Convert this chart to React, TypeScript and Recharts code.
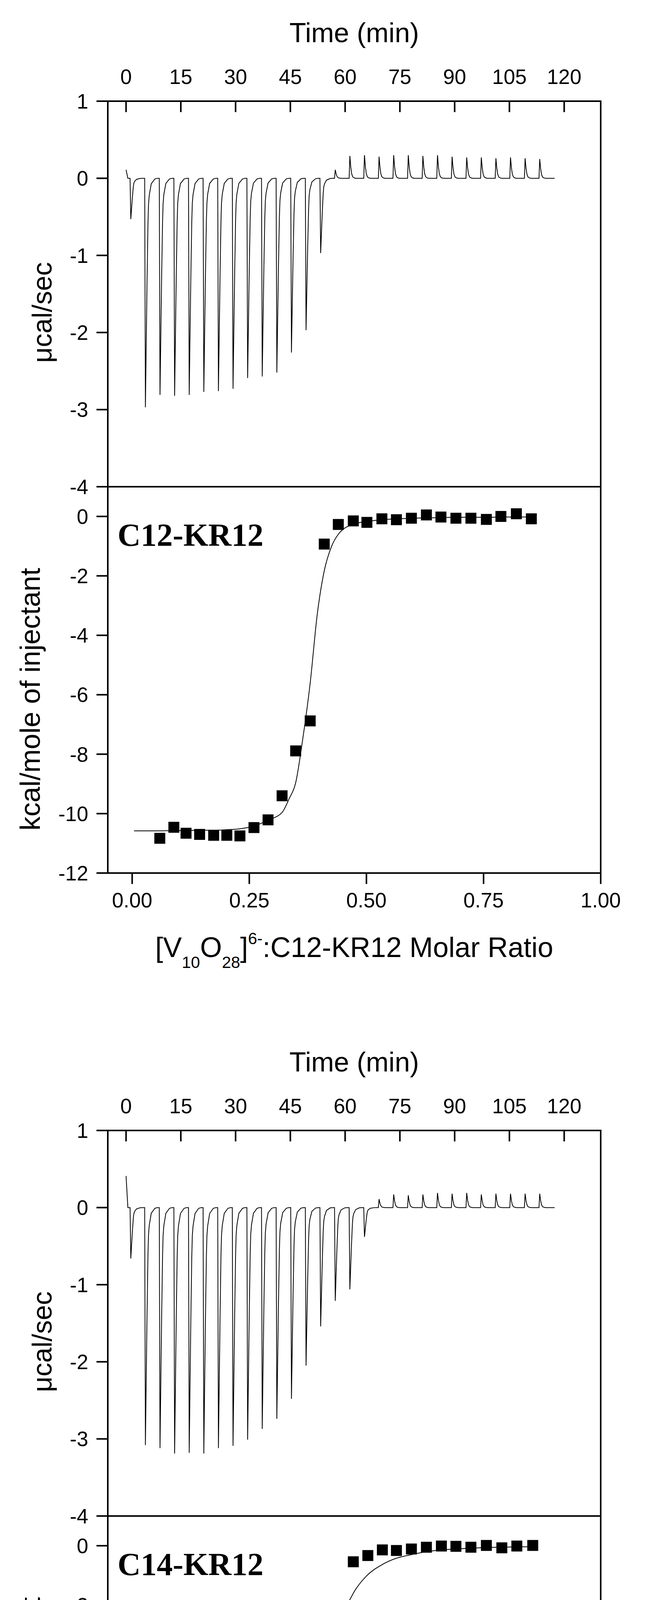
import React from 'react';
import { ComposedChart, Line, Scatter, XAxis, YAxis } from 'recharts';

const SANS = "'Liberation Sans', Arial, Helvetica, sans-serif";
const SERIF = "'Liberation Serif', 'Times New Roman', serif";

// injection start times (min), same protocol in both runs
const injectionTimes = [
  1.1, 5.1, 9.1, 13.1, 17.1, 21.1, 25.1, 29.1, 33.1, 37.1, 41.1, 45.1, 49.1, 53.1, 57.1,
  61.1, 65.1, 69.1, 73.1, 77.1, 81.1, 85.1, 89.1, 93.1, 97.1, 101.1, 105.1, 109.1, 113.1,
];
const traceEnd = 117.4;

// peak heights (ucal/sec) of each injection
const c12PeakHeights = [
  -0.53, -2.97, -2.81, -2.82, -2.81, -2.77, -2.76, -2.73, -2.59, -2.57, -2.52, -2.26, -1.97, -0.97, 0.11,
  0.29, 0.3, 0.28, 0.3, 0.3, 0.29, 0.3, 0.28, 0.27, 0.27, 0.26, 0.27, 0.26, 0.25,
];
const c14PeakHeights = [
  -0.66, -3.08, -3.12, -3.19, -3.18, -3.19, -3.12, -3.09, -3.01, -2.87, -2.74, -2.48, -2.05, -1.54, -1.21,
  -1.06, -0.38, 0.11, 0.17, 0.16, 0.17, 0.19, 0.18, 0.19, 0.17, 0.18, 0.18, 0.18, 0.18,
];
const c12TraceStart = 0.11;
const c14TraceStart = 0.41;

const downOffsets = [0, 0.2, 0.65, 0.9, 1.05, 1.25, 1.8, 2.8, 3.5];
const downShape = [0, 1, 0.45, 0.2, 0.115, 0.075, 0.024, 0.003, 0];
const upOffsets = [0, 0.2, 0.45, 0.7, 1.0, 1.4, 1.9];
const upShape = [0, 1, 0.5, 0.2, 0.06, 0.015, 0];

// integrated heats
const c12Ratio = [
  0.059, 0.089, 0.115, 0.144, 0.174, 0.202, 0.23, 0.26, 0.29, 0.32, 0.349, 0.38, 0.41, 0.44,
  0.472, 0.501, 0.533, 0.564, 0.596, 0.628, 0.659, 0.691, 0.723, 0.756, 0.787, 0.82, 0.852,
];
const c12Heat = [
  -10.83, -10.46, -10.66, -10.7, -10.73, -10.73, -10.75, -10.47, -10.21, -9.4, -7.89, -6.88, -0.93, -0.27,
  -0.15, -0.2, -0.08, -0.11, -0.06, 0.05, -0.02, -0.06, -0.06, -0.1, 0.0, 0.09, -0.08,
];
const c12FitRatio = [
  0.004, 0.059, 0.089, 0.115, 0.144, 0.174, 0.202, 0.23, 0.26, 0.29, 0.32, 0.335, 0.349, 0.364, 0.38, 0.395,
  0.41, 0.425, 0.44, 0.472, 0.501, 0.533, 0.564, 0.596, 0.628, 0.659, 0.691, 0.723, 0.756, 0.787, 0.82, 0.852,
];
const c12FitHeat = [
  -10.58, -10.58, -10.57, -10.57, -10.56, -10.56, -10.54, -10.51, -10.42, -10.22, -9.96, -9.5, -8.96, -7.5, -5.6, -3.3,
  -1.83, -1.03, -0.6, -0.26, -0.17, -0.11, -0.08, -0.06, -0.05, -0.04, -0.03, -0.03, -0.03, -0.02, -0.02, -0.02,
];

const c14Ratio = [
  0.032, 0.06, 0.089, 0.117, 0.145, 0.174, 0.202, 0.231, 0.26, 0.29, 0.32, 0.35, 0.381, 0.411,
  0.44, 0.472, 0.503, 0.534, 0.564, 0.596, 0.628, 0.66, 0.691, 0.723, 0.756, 0.789, 0.821, 0.855,
];
const c14Heat = [
  -11.0, -11.15, -11.29, -11.4, -11.34, -11.37, -11.33, -11.29, -11.18, -10.87, -10.53, -9.44, -6.61, -4.09,
  -5.53, -0.54, -0.33, -0.14, -0.16, -0.11, -0.05, -0.01, -0.02, -0.05, 0.01, -0.07, -0.01, 0.01,
];
const c14FitRatio = [
  0.005, 0.032, 0.06, 0.089, 0.117, 0.145, 0.174, 0.202, 0.231, 0.26, 0.29, 0.32, 0.335, 0.35, 0.367, 0.383, 0.398,
  0.414, 0.428, 0.441, 0.457, 0.473, 0.5, 0.532, 0.564, 0.596, 0.628, 0.66, 0.691, 0.723, 0.756, 0.789, 0.821, 0.855,
];
const c14FitHeat = [
  -11.45, -11.45, -11.44, -11.43, -11.4, -11.37, -11.33, -11.27, -11.18, -11.02, -10.8, -10.2, -9.7, -9.0, -7.95, -6.94, -5.77,
  -4.42, -3.42, -2.75, -2.07, -1.57, -1.02, -0.65, -0.42, -0.3, -0.2, -0.14, -0.11, -0.08, -0.06, -0.05, -0.04, -0.03,
];

const timeTicks = [0, 15, 30, 45, 60, 75, 90, 105, 120];
const timeMinorTicks = [7.5, 22.5, 37.5, 52.5, 67.5, 82.5, 97.5, 112.5, 127.5];
const rateTicks = [1, 0, -1, -2, -3, -4];
const rateMinorTicks = [0.5, -0.5, -1.5, -2.5, -3.5];
const ratioTicks = [0, 0.25, 0.5, 0.75, 1];
const ratioMinorTicks = [0.125, 0.375, 0.625, 0.875];
const ratioTopTicks = [0, 0.125, 0.25, 0.375, 0.5, 0.625, 0.75, 0.875];
const heatTicks = [0, -2, -4, -6, -8, -10, -12];
const heatMinorTicks = [-1, -3, -5, -7, -9, -11];

const TIME_DOMAIN: [number, number] = [-5, 130];
const RATE_DOMAIN: [number, number] = [-4, 1];
const RATIO_DOMAIN: [number, number] = [-0.052, 1];
const HEAT_DOMAIN: [number, number] = [-12, 1];

function buildTrace(start: number, heights: number[]) {
  const pts = [{ t: 0, v: start }, { t: 0.5, v: 0 }];
  heights.forEach((h, i) => {
    const t0 = injectionTimes[i];
    const offs = h < 0 ? downOffsets : upOffsets;
    const shape = h < 0 ? downShape : upShape;
    offs.forEach((o, j) => pts.push({ t: t0 + o, v: h * shape[j] }));
  });
  pts.push({ t: traceEnd, v: 0 });
  return pts;
}

const pairs = (xs: number[], ys: number[]) => xs.map((x, i) => ({ x, y: ys[i] }));

const axisLine = { stroke: '#000', strokeWidth: 4, strokeLinecap: 'square' as const };
const tickLine = { stroke: '#000', strokeWidth: 4 };
const tickFont = { fill: '#000', fontSize: 53, fontFamily: SANS };

const Square = (props: any) => (
  <rect x={props.cx - 14} y={props.cy - 14} width={28} height={28} fill="#000" />
);

// every axis is 1px thick, so the margins below are the plot edges minus the stacked axes
function ThermogramPanel({ trace }: { trace: { t: number; v: number }[] }) {
  return (
    <ComposedChart
      width={1654}
      height={1300}
      data={trace}
      margin={{ top: 257, right: 114, bottom: 53, left: 274 }}
    >
      <XAxis xAxisId="t" dataKey="t" type="number" orientation="top" domain={TIME_DOMAIN} allowDataOverflow
        ticks={timeTicks} interval={0} height={1} tickSize={-28} tickMargin={72}
        axisLine={axisLine} tickLine={tickLine} tick={tickFont} />
      <XAxis xAxisId="tMinor" type="number" orientation="top" domain={TIME_DOMAIN} allowDataOverflow
        ticks={timeMinorTicks} interval={0} height={1} tickSize={-15}
        axisLine={false} tickLine={tickLine} tick={false} />
      <XAxis xAxisId="tBottom" type="number" orientation="bottom" domain={TIME_DOMAIN} allowDataOverflow
        ticks={timeTicks} interval={0} height={1} axisLine={axisLine} tickLine={false} tick={false} />
      <YAxis yAxisId="p" type="number" domain={RATE_DOMAIN} allowDataOverflow
        ticks={rateTicks} interval={0} width={1} tickSize={29} tickMargin={21}
        axisLine={axisLine} tickLine={tickLine} tick={tickFont} />
      <YAxis yAxisId="pMinor" type="number" domain={RATE_DOMAIN} allowDataOverflow
        ticks={rateMinorTicks} interval={0} width={1} tickSize={15}
        axisLine={false} tickLine={tickLine} tick={false} />
      <YAxis yAxisId="pRight" orientation="right" type="number" domain={RATE_DOMAIN} allowDataOverflow
        ticks={rateTicks} interval={0} width={1} tickSize={-29}
        axisLine={axisLine} tickLine={tickLine} tick={false} />
      <YAxis yAxisId="pRightMinor" orientation="right" type="number" domain={RATE_DOMAIN} allowDataOverflow
        ticks={rateMinorTicks} interval={0} width={1} tickSize={-15}
        axisLine={false} tickLine={tickLine} tick={false} />
      <Line xAxisId="t" yAxisId="p" dataKey="v" type="linear" stroke="#000" strokeWidth={2}
        dot={false} activeDot={false} isAnimationActive={false} />
    </ComposedChart>
  );
}

function IsothermPanel({ points, fit }: { points: { x: number; y: number }[]; fit: { x: number; y: number }[] }) {
  return (
    <ComposedChart width={1654} height={1400} margin={{ top: 95, right: 114, bottom: 313, left: 274 }}>
      <XAxis xAxisId="r" dataKey="x" type="number" orientation="bottom" domain={RATIO_DOMAIN} allowDataOverflow
        ticks={ratioTicks} interval={0} height={1} tickSize={28} tickMargin={22}
        tickFormatter={(v: number) => v.toFixed(2)}
        axisLine={axisLine} tickLine={tickLine} tick={tickFont} />
      <XAxis xAxisId="rMinor" type="number" orientation="bottom" domain={RATIO_DOMAIN} allowDataOverflow
        ticks={ratioMinorTicks} interval={0} height={1} tickSize={15}
        axisLine={false} tickLine={tickLine} tick={false} />
      <XAxis xAxisId="rTop" type="number" orientation="top" domain={RATIO_DOMAIN} allowDataOverflow
        ticks={ratioTopTicks} interval={0} height={1} tickSize={-28}
        axisLine={axisLine} tickLine={tickLine} tick={false} />
      <YAxis yAxisId="h" type="number" domain={HEAT_DOMAIN} allowDataOverflow
        ticks={heatTicks} interval={0} width={1} tickSize={29} tickMargin={21}
        axisLine={axisLine} tickLine={tickLine} tick={tickFont} />
      <YAxis yAxisId="hMinor" type="number" domain={HEAT_DOMAIN} allowDataOverflow
        ticks={heatMinorTicks} interval={0} width={1} tickSize={15}
        axisLine={false} tickLine={tickLine} tick={false} />
      <YAxis yAxisId="hRight" orientation="right" type="number" domain={HEAT_DOMAIN} allowDataOverflow
        ticks={heatTicks} interval={0} width={1} tickSize={-29}
        axisLine={axisLine} tickLine={tickLine} tick={false} />
      <YAxis yAxisId="hRightMinor" orientation="right" type="number" domain={HEAT_DOMAIN} allowDataOverflow
        ticks={heatMinorTicks} interval={0} width={1} tickSize={-15}
        axisLine={false} tickLine={tickLine} tick={false} />
      <Line xAxisId="r" yAxisId="h" data={fit} dataKey="y" type="monotone" stroke="#000" strokeWidth={2}
        dot={false} activeDot={false} isAnimationActive={false} />
      <Scatter xAxisId="r" yAxisId="h" data={points} dataKey="y" shape={Square} isAnimationActive={false} />
    </ComposedChart>
  );
}

function ItcFigure({ name, top, trace, points, fit }: {
  name: string;
  top: number;
  trace: { t: number; v: number }[];
  points: { x: number; y: number }[];
  fit: { x: number; y: number }[];
}) {
  return (
    <div style={{ position: 'absolute', left: 0, top, width: 1654, height: 2635 }}>
      <div style={{ position: 'absolute', left: 0, top: 0 }}>
        <ThermogramPanel trace={trace} />
      </div>
      <div style={{ position: 'absolute', left: 0, top: 1150 }}>
        <IsothermPanel points={points} fit={fit} />
      </div>
      <svg width={1654} height={2635} style={{ position: 'absolute', left: 0, top: 0, pointerEvents: 'none' }}>
        <text x={907} y={108} textAnchor="middle" fontSize={70} fontFamily={SANS} fill="#000">Time (min)</text>
        <text x={132} y={800} transform="rotate(-90 132 800)" textAnchor="middle" fontSize={70} fontFamily={SANS} fill="#000">
          μcal/sec
        </text>
        <text x={102} y={1790} transform="rotate(-90 102 1790)" textAnchor="middle" fontSize={72} fontFamily={SANS} fill="#000">
          kcal/mole of injectant
        </text>
        <text x={301} y={1397} fontSize={82} fontWeight="bold" fontFamily={SERIF} fill="#000">{name}</text>
        <text x={907} y={2450} textAnchor="middle" fontSize={72} fontFamily={SANS} fill="#000">
          [V<tspan fontSize={42} dy={28}>10</tspan>
          <tspan dy={-28}>O</tspan>
          <tspan fontSize={42} dy={28}>28</tspan>
          <tspan dy={-28}>]</tspan>
          <tspan fontSize={42} dy={-33}>6-</tspan>
          <tspan dy={33}>:{name} Molar Ratio</tspan>
        </text>
      </svg>
    </div>
  );
}

export default function App() {
  return (
    <div style={{ position: 'relative', margin: -8, width: 1654, height: 5160, background: '#fff', overflow: 'hidden' }}>
      <ItcFigure
        name="C12-KR12"
        top={0}
        trace={buildTrace(c12TraceStart, c12PeakHeights)}
        points={pairs(c12Ratio, c12Heat)}
        fit={pairs(c12FitRatio, c12FitHeat)}
      />
      <ItcFigure
        name="C14-KR12"
        top={2635}
        trace={buildTrace(c14TraceStart, c14PeakHeights)}
        points={pairs(c14Ratio, c14Heat)}
        fit={pairs(c14FitRatio, c14FitHeat)}
      />
    </div>
  );
}
